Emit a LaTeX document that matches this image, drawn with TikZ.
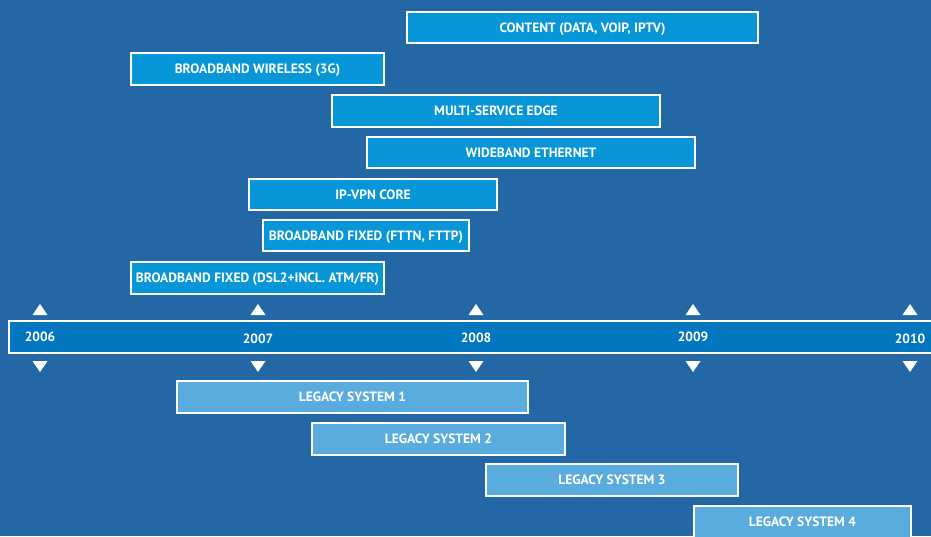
\documentclass[tikz,border=0pt]{standalone}
\usepackage{fontspec}
\setmainfont{PT Sans}
\definecolor{bg}{HTML}{2368A4}
\definecolor{topblue}{HTML}{0796D8}
\definecolor{barblue}{HTML}{0277C0}
\definecolor{legblue}{HTML}{5AACDF}
\tikzset{
  bx/.style={draw=white, line width=1.3pt, inner sep=0pt, text=white,
    text height=9pt, text depth=0pt,
    font=\bfseries\fontsize{13.5}{15}\selectfont},
  topbox/.style={bx, fill=topblue},
  legbox/.style={bx, fill=legblue},
  yr/.style={text=white, inner sep=0pt, text height=9pt, text depth=0pt,
    font=\bfseries\fontsize{13.4}{15}\selectfont},
  tri/.style={fill=white}
}
\begin{document}
\begin{tikzpicture}[x=1pt,y=-1pt]
\useasboundingbox (0,0) rectangle (931,536);
\clip (0,0) rectangle (931,536);
\fill[bg] (0,0) rectangle (931,536);
% top boxes
\node (content) [topbox, minimum width=351pt, minimum height=31pt] at (582.5,27.5) {CONTENT (DATA, VOIP, IPTV)};
\node (wireless) [topbox, minimum width=253pt, minimum height=32pt] at (257.5,69) {BROADBAND WIRELESS (3G)};
\node (mse) [topbox, minimum width=328pt, minimum height=32pt] at (496,111) {MULTI-SERVICE EDGE};
\node (wbe) [topbox, minimum width=328pt, minimum height=31pt] at (531,152.5) {WIDEBAND ETHERNET};
\node (ipvpn) [topbox, minimum width=248pt, minimum height=31pt] at (373,194.5) {IP-VPN CORE};
\node (fttn) [topbox, minimum width=206pt, minimum height=31pt] at (366,235.5) {BROADBAND FIXED (FTTN, FTTP)};
\node (dsl) [topbox, minimum width=253pt, minimum height=32pt] at (257.5,278) {BROADBAND FIXED (DSL2+INCL. ATM/FR)};
% timeline bar
\node (bar) [draw=white, line width=1.3pt, fill=barblue, minimum width=931pt, minimum height=32pt, inner sep=0pt] at (474.5,337) {};
% years
\node (y2006) [yr] at (40,337) {2006};
\node (y2007) [yr] at (258,339) {2007};
\node (y2008) [yr] at (476,338) {2008};
\node (y2009) [yr] at (693,337) {2009};
\node (y2010) [yr] at (910,339) {2010};
% triangles
\foreach \x in {40,258,476,693,910}{
  \fill[tri] (\x-7.5,315) -- (\x+7.5,315) -- (\x,304) -- cycle;
  \fill[tri] (\x-7.5,361) -- (\x+7.5,361) -- (\x,372) -- cycle;
}
% legacy boxes
\node (leg1) [legbox, minimum width=351pt, minimum height=32pt] at (352.5,397) {LEGACY SYSTEM 1};
\node (leg2) [legbox, minimum width=253pt, minimum height=32pt] at (438.5,439) {LEGACY SYSTEM 2};
\node (leg3) [legbox, minimum width=252pt, minimum height=32pt] at (612,480) {LEGACY SYSTEM 3};
\node (leg4) [legbox, minimum width=217pt, minimum height=32pt] at (802.5,522) {LEGACY SYSTEM 4};
\end{tikzpicture}
\end{document}
